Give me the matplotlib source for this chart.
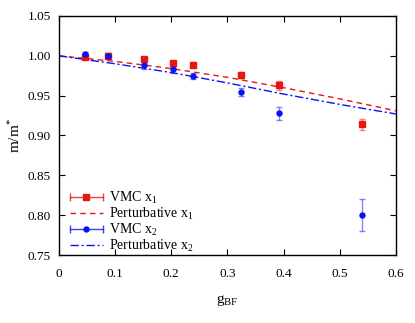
import matplotlib
matplotlib.use("Agg")
import matplotlib.pyplot as plt
from matplotlib.lines import Line2D
from matplotlib.legend_handler import HandlerBase
import numpy as np

plt.rcParams['font.family'] = ['Liberation Serif', 'DejaVu Serif']
plt.rcParams['mathtext.fontset'] = 'custom'
plt.rcParams['mathtext.rm'] = 'Liberation Serif'
plt.rcParams['mathtext.it'] = 'Liberation Serif'

# VMC data
g1 = [0.046, 0.088, 0.152, 0.2035, 0.238, 0.325, 0.391, 0.539]
y1 = [0.999, 1.000, 0.996, 0.991, 0.989, 0.976, 0.963, 0.914]
e1 = [0.003, 0.003, 0.003, 0.003, 0.003, 0.004, 0.0055, 0.007]
g2 = [0.046, 0.088, 0.152, 0.2035, 0.238, 0.325, 0.391, 0.539]
y2 = [1.002, 1.000, 0.988, 0.983, 0.975, 0.955, 0.928, 0.800]
e2 = [0.003, 0.003, 0.004, 0.004, 0.004, 0.005, 0.008, 0.020]

# Perturbative curves
gp = [0.0, 0.1, 0.2, 0.3, 0.4, 0.5, 0.6]
p1 = [1.000, 0.993, 0.984, 0.973, 0.960, 0.946, 0.931]
p2 = [1.000, 0.990, 0.979, 0.966, 0.952, 0.939, 0.927]

xticks = [0, 0.1, 0.2, 0.3, 0.4, 0.5, 0.6]
xticklabels = ['0', '0.1', '0.2', '0.3', '0.4', '0.5', '0.6']
yticks = [0.75, 0.80, 0.85, 0.90, 0.95, 1.00, 1.05]
yticklabels = ['0.75', '0.80', '0.85', '0.90', '0.95', '1.00', '1.05']

RED = '#e8160c'
BLUE = '#0a14f0'

fig = plt.figure(figsize=(4.15, 3.23), dpi=100)
ax = fig.add_axes([0.1422, 0.2105, 0.8118, 0.74])

ax.plot(gp, p1, color=RED, ls=(0, (4, 3)), lw=1.0)
ax.plot(gp, p2, color=BLUE, ls=(0, (6, 2, 1.5, 2)), lw=1.0)
ax.errorbar(g1, y1, yerr=e1, fmt='s', color=RED, ms=4.2, ecolor=RED,
            elinewidth=1.0, capsize=2.3, capthick=1.0, zorder=3)
ax.errorbar(g2, y2, yerr=e2, fmt='o', color=BLUE, ms=3.6, ecolor=BLUE,
            elinewidth=1.0, capsize=2.3, capthick=1.0, zorder=3)
# lighten error bars
for c in ax.containers:
    for art in c.lines[1] + c.lines[2]:
        art.set_alpha(0.5)

ax.set_xlim(0, 0.6)
ax.set_ylim(0.75, 1.05)
ax.set_xticks(xticks)
ax.set_xticklabels(xticklabels)
ax.set_yticks(yticks)
ax.set_yticklabels(yticklabels)
ax.tick_params(direction='in', top=True, right=True, length=4, width=0.8,
               labelsize=9.5, pad=6, colors='black')
ax.tick_params(axis='x', pad=9)
for s in ax.spines.values():
    s.set_linewidth(1.0)

ax.set_xlabel(r'g$_{\mathrm{BF}}$', fontsize=11, labelpad=10)
ax.set_ylabel(r'm/m$^{*}$', fontsize=11, labelpad=3)


class HandlerXErr(HandlerBase):
    def __init__(self, color, marker, ms):
        super().__init__()
        self.color = color
        self.marker = marker
        self.ms = ms

    def create_artists(self, legend, orig_handle, xdescent, ydescent, width,
                       height, fontsize, trans):
        y = height / 2 - ydescent
        x0, x1 = -xdescent, -xdescent + width
        ln = Line2D([x0, x1], [y, y], color=self.color, lw=1.0, alpha=0.8)
        caps = Line2D([x0, x1], [y, y], color=self.color, lw=0, marker='|',
                      ms=6, mew=1.0, alpha=0.8)
        mk = Line2D([(x0 + x1) / 2], [y], color=self.color, lw=0,
                    marker=self.marker, ms=self.ms)
        for a in (ln, caps, mk):
            a.set_transform(trans)
        return [ln, caps, mk]


h1 = Line2D([], [], color=RED)
h2 = Line2D([], [], color=RED, ls=(0, (4, 3)), lw=1.0)
h3 = Line2D([], [], color=BLUE)
h4 = Line2D([], [], color=BLUE, ls=(0, (6, 2, 1.5, 2)), lw=1.0)
leg = ax.legend([h1, h2, h3, h4],
                [r'VMC x$_1$', r'Perturbative x$_1$', r'VMC x$_2$', r'Perturbative x$_2$'],
                handler_map={h1: HandlerXErr(RED, 's', 4.2), h3: HandlerXErr(BLUE, 'o', 3.6)},
                loc='lower left', bbox_to_anchor=(-0.005, -0.05), frameon=False,
                fontsize=10, handlelength=2.4, handletextpad=0.4, labelspacing=0.0,
                borderaxespad=0.5)

fig.savefig('out.png', dpi=100)
